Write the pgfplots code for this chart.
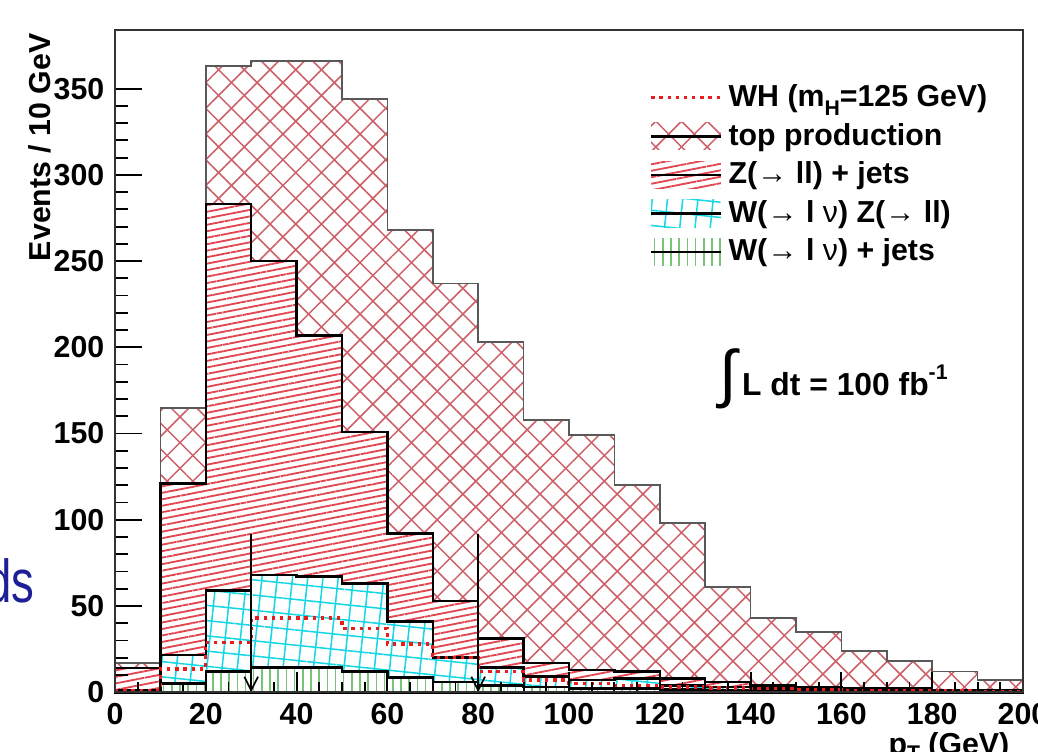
\documentclass[border=0pt]{standalone}
\usepackage{fontspec}
\setmainfont{Liberation Sans}
\usepackage{pgfplots}
\pgfplotsset{compat=1.18}
\usetikzlibrary{patterns.meta, arrows.meta}
\definecolor{topred}{RGB}{205,95,105}
\definecolor{zred}{RGB}{225,70,80}
\definecolor{wzcyan}{RGB}{20,215,230}
\definecolor{wjgreen}{RGB}{120,195,120}
\definecolor{whred}{RGB}{230,30,30}
\definecolor{navy}{RGB}{30,30,150}
\tikzset{
  topfill/.style={preaction={fill=white, draw=none},
    preaction={pattern={Lines[angle=-45,distance=6pt,line width=0.5pt]}, pattern color=topred, draw=none},
    pattern={Lines[angle=45,distance=6pt,line width=0.5pt]}, pattern color=topred},
  zfill/.style={preaction={fill=white, draw=none},
    pattern={Lines[angle=11,distance=2.1pt,line width=0.6pt]}, pattern color=zred},
  wzfill/.style={preaction={fill=white, draw=none},
    preaction={pattern={Lines[angle=-6,distance=5pt,line width=0.5pt]}, pattern color=wzcyan, draw=none},
    pattern={Lines[angle=84,distance=5pt,line width=0.5pt]}, pattern color=wzcyan},
  wjfill/.style={preaction={fill=white, draw=none},
    pattern={Lines[angle=90,distance=2.7pt,line width=0.5pt]}, pattern color=wjgreen},
  topstyle/.style={draw=black!65, line width=0.55pt, topfill},
  zstyle/.style={draw=black, line width=0.85pt, zfill},
  wzstyle/.style={draw=black, line width=0.85pt, wzfill},
  wjstyle/.style={draw=black, line width=0.85pt, wjfill},
  whstyle/.style={draw=whred, line width=1.1pt, dash pattern=on 1.1pt off 1.6pt},
}
\pgfplotsset{
  histlegend/.style={legend image code/.code={%
     \path[#1, draw=none] (0pt,-4.5pt) rectangle (23pt,4.5pt);
     \draw[black, line width=0.8pt] (0pt,0pt) -- (23pt,0pt);}},
  linelegend/.style={legend image code/.code={%
     \draw[##1] (0pt,0pt) -- (23pt,0pt);}},
}
\begin{document}
\begin{tikzpicture}
\begin{axis}[
  name=ax,
  scale only axis, width=299.6pt, height=218.5pt,
  xmin=0, xmax=200, ymin=0, ymax=384,
  axis on top, clip=false,
  axis line style={black!80, line width=0.6pt},
  tick align=inside, xtick pos=bottom, ytick pos=left,
  xtick={0,20,...,200}, minor x tick num=3,
  ytick={0,50,...,350}, minor y tick num=4,
  xtick style={black, line width=0.6pt, /pgfplots/major tick length=6.6pt, /pgfplots/minor tick length=3.3pt},
  ytick style={black, line width=0.6pt, /pgfplots/major tick length=8.9pt, /pgfplots/minor tick length=4.4pt},
  ticklabel style={font=\bfseries\fontsize{10}{12}\selectfont},
  /pgf/number format/assume math mode=true,
  xlabel={p\raisebox{-2pt}{\fontsize{7}{8}\selectfont T} (GeV)},
  xlabel style={at={(rel axis cs:1,0)}, anchor=north east, yshift=-9.7pt, xshift=-1pt, font=\bfseries\fontsize{10}{12}\selectfont},
  legend style={at={(rel axis cs:0.578,0.937)}, anchor=north west, draw=none, fill=none,
    font=\bfseries\fontsize{10}{12}\selectfont, row sep=0pt, nodes={inner sep=2pt}},
  legend cell align=left,
]
\addlegendimage{whstyle, linelegend}
\addlegendentry{WH (m\raisebox{-3pt}{\fontsize{7}{8}\selectfont H}=125 GeV)}
\addlegendimage{histlegend=topfill}
\addlegendentry{top production}
\addlegendimage{histlegend=zfill}
\addlegendentry{Z(→ ll) + jets}
\addlegendimage{histlegend=wzfill}
\addlegendentry{W(→ l {\mdseries ν}) Z(→ ll)}
\addlegendimage{histlegend=wjfill}
\addlegendentry{W(→ l {\mdseries ν}) + jets}

% top production (stacked total)
\addplot[const plot, topstyle, forget plot] coordinates {
(0,17) (10,165) (20,363) (30,366) (40,366) (50,344) (60,268) (70,237) (80,203) (90,158)
(100,149) (110,120) (120,98) (130,61) (140,43) (150,35) (160,24) (170,18) (180,12) (190,7) (200,7)} \closedcycle;
% Z(->ll)+jets (stacked)
\addplot[const plot, zstyle, forget plot] coordinates {
(0,14) (10,121) (20,283) (30,250) (40,207) (50,151) (60,92) (70,53) (80,31) (90,17)
(100,13) (110,12) (120,8) (130,6) (140,4) (150,3) (160,2) (170,2) (180,1) (190,1) (200,1)} \closedcycle;
% WZ (stacked)
\addplot[const plot, wzstyle, forget plot] coordinates {
(0,1) (10,21.5) (20,59) (30,68) (40,67) (50,63) (60,41) (70,20) (80,14.5) (90,9)
(100,7) (110,8) (120,4) (130,3) (140,2) (150,2) (160,1) (170,1) (180,0.5) (190,0.5) (200,0.5)} \closedcycle;
% W+jets (stacked)
\addplot[const plot, wjstyle, forget plot] coordinates {
(0,0.5) (10,5) (20,12) (30,14.5) (40,14.5) (50,12) (60,8.5) (70,6) (80,4) (90,3)
(100,2) (110,2) (120,1.5) (130,1) (140,1) (150,1) (160,0.5) (170,0.5) (180,0.3) (190,0.3) (200,0.3)} \closedcycle;
% WH signal
\addplot[const plot, whstyle, forget plot] coordinates {
(0,1) (10,13.5) (20,29) (30,43) (40,43) (50,37) (60,28) (70,20) (80,12) (90,7)
(100,5) (110,4) (120,3) (130,2.5) (140,2) (150,1.5) (160,1) (170,1) (180,1) (190,0.5) (200,0.5)};
% cut arrows
\addplot[black, line width=0.55pt, -{Straight Barb[length=4.5pt,width=4.5pt]}, forget plot] coordinates {(30,92) (30,0)};
\addplot[black, line width=0.55pt, -{Straight Barb[length=4.5pt,width=4.5pt]}, forget plot] coordinates {(80,92) (80,0)};

\node[anchor=west, inner sep=0, font=\bfseries\fontsize{10.5}{12}\selectfont] at (axis cs:133,182)
  {{\fontsize{21}{21}\selectfont\mdseries ∫}\,L dt = 100 fb\raisebox{5pt}{\fontsize{7}{7}\selectfont -1}};
\node[rotate=90, anchor=east, inner sep=0, font=\bfseries\fontsize{10}{12}\selectfont] at (rel axis cs:-0.0826,0.9955) {Events / 10 GeV};
\node[anchor=base east, inner sep=0, font=\fontsize{20}{24}\selectfont, text=navy] at (rel axis cs:-0.0881,0.136) {\scalebox{0.75}[1]{ds}};
\coordinate (bbsw) at (rel axis cs:-0.12665,-0.08912);
\coordinate (bbne) at (rel axis cs:1.01652,1.04532);
\end{axis}
\pgfresetboundingbox
\useasboundingbox (bbsw) rectangle (bbne);
\end{tikzpicture}
\end{document}
